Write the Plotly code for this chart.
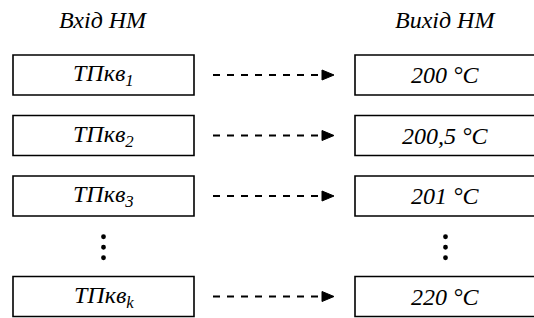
import plotly.graph_objects as go

# ---- data ----
input_subscripts = ["1", "2", "3", "k"]
output_values = ["200", "200,5", "201", "220"]
input_base = "ТПкв"
unit = "°C"
header_in = "Вхід НМ"
header_out = "Вихід НМ"

# ---- layout constants ----
W, H = 534, 318
box_w, box_h = 181, 40
left_x0, right_x0 = 13, 355
first_center, step, skip_gap = 75, 60.5, 100.5
header_y = 20
FONT = "Liberation Serif"
FS = 24

n = len(input_subscripts)
centers = [first_center + step * i for i in range(n - 1)]
centers.append(centers[-1] + skip_gap)
ell_y = (centers[-2] + centers[-1]) / 2 + 1

fig = go.Figure()
shapes = []
annotations = []

for i, (sub, val) in enumerate(zip(input_subscripts, output_values)):
    cy = centers[i]
    for x0 in (left_x0, right_x0):
        shapes.append(dict(type="rect", xref="x", yref="y",
                           x0=x0, x1=x0 + box_w, y0=cy - box_h / 2, y1=cy + box_h / 2,
                           line=dict(color="black", width=1.6)))
    annotations.append(dict(x=left_x0 + box_w / 2, y=cy, xref="x", yref="y",
                            xanchor="center", yanchor="middle",
                            text=f"<i>{input_base}<sub>{sub}</sub></i>", showarrow=False,
                            font=dict(family=FONT, size=FS, color="black")))
    annotations.append(dict(x=right_x0 + box_w / 2, y=cy, xref="x", yref="y",
                            xanchor="center", yanchor="middle",
                            text=f"<i>{val} {unit}</i>", showarrow=False,
                            font=dict(family=FONT, size=FS, color="black")))
    ax0 = left_x0 + box_w + 19
    ax1 = right_x0 - 32
    shapes.append(dict(type="line", xref="x", yref="y", x0=ax0, x1=ax1, y0=cy, y1=cy,
                       line=dict(color="black", width=2.2, dash="7px,7px")))
    tip = right_x0 - 21
    base = tip - 12
    shapes.append(dict(type="path", xref="x", yref="y",
                       path=f"M {base},{cy - 5} L {tip},{cy} L {base},{cy + 5} Z",
                       fillcolor="black", line=dict(color="black", width=1)))

for x0 in (left_x0, right_x0):
    cx = x0 + box_w / 2
    for d in (-10.5, 0, 10.5):
        shapes.append(dict(type="circle", xref="x", yref="y",
                           x0=cx - 2.4, x1=cx + 2.4, y0=ell_y + d - 2.4, y1=ell_y + d + 2.4,
                           fillcolor="black", line=dict(color="black", width=0)))

for x0, txt in ((left_x0, header_in), (right_x0, header_out)):
    annotations.append(dict(x=x0 + box_w / 2, y=header_y, xref="x", yref="y",
                            xanchor="center", yanchor="middle",
                            text=f"<i>{txt}</i>", showarrow=False,
                            font=dict(family=FONT, size=FS, color="black")))

fig.update_layout(
    width=W, height=H, margin=dict(l=0, r=0, t=0, b=0),
    font=dict(family=FONT, size=FS, color="black"),
    xaxis=dict(range=[0, W], visible=False),
    yaxis=dict(range=[H, 0], visible=False),
    plot_bgcolor="white",
    shapes=shapes, annotations=annotations, showlegend=False,
)

fig.write_html("out.html", config={"displayModeBar": False},
               post_script="document.body.style.margin='0';document.body.style.overflow='hidden';")
